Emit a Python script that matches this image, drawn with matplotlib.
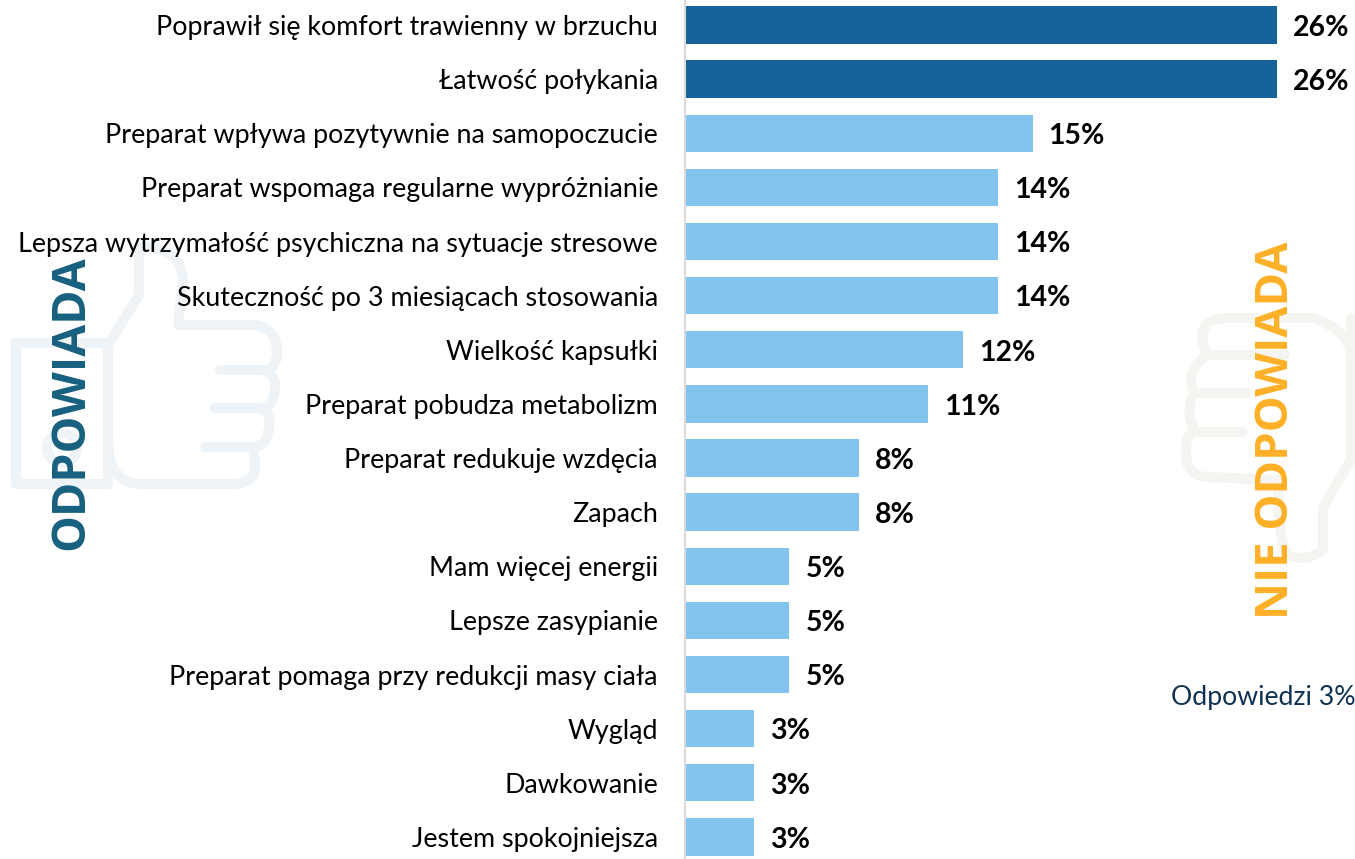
import matplotlib.pyplot as plt
from matplotlib.path import Path
from matplotlib.patches import PathPatch, Circle

plt.rcParams['font.family'] = ['Lato', 'Open Sans', 'DejaVu Sans']

# Answers and their shares, top bar first
categories = ['Poprawił się komfort trawienny w brzuchu', 'Łatwość połykania',
              'Preparat wpływa pozytywnie na samopoczucie', 'Preparat wspomaga regularne wypróżnianie',
              'Lepsza wytrzymałość psychiczna na sytuacje stresowe', 'Skuteczność po 3 miesiącach stosowania',
              'Wielkość kapsułki', 'Preparat pobudza metabolizm', 'Preparat redukuje wzdęcia', 'Zapach',
              'Mam więcej energii', 'Lepsze zasypianie', 'Preparat pomaga przy redukcji masy ciała',
              'Wygląd', 'Dawkowanie', 'Jestem spokojniejsza']
values = [25.8, 25.8, 15.15, 13.65, 13.65, 13.65, 12.1, 10.6, 7.6, 7.6, 4.55, 4.55, 4.55, 3.0, 3.0, 3.0]
labels = ['26%', '26%', '15%', '14%', '14%', '14%', '12%', '11%', '8%', '8%', '5%', '5%', '5%', '3%', '3%', '3%']
bar_colors = ['#17629B'] * 2 + ['#82C4EE'] * 14

W, H = 1355, 859
fig = plt.figure(figsize=(W / 100, H / 100), dpi=100)

# Background layer in pixel coordinates for the two thumb icons
bg = fig.add_axes([0, 0, 1, 1], zorder=0)
bg.set_xlim(0, W)
bg.set_ylim(H, 0)
bg.axis('off')

M, L, C = Path.MOVETO, Path.LINETO, Path.CURVE3


def stroke(verts, codes, color, lw=7.2):
    bg.add_patch(PathPatch(Path(verts, codes), fill=False, edgecolor=color, lw=lw,
                           capstyle='round', joinstyle='round'))


# Thumb up
up = '#EEF3F7'
stroke([(16, 343), (108, 343), (108, 484), (16, 484), (16, 343)], [M, L, L, L, L], up)
bg.add_patch(Circle((62, 448), 15, fill=False, edgecolor=up, lw=7.2))
stroke([(108, 345), (139, 295), (139, 247), (180, 245), (183, 280), (178, 325),
        (257, 325), (277, 330), (277, 352), (277, 370), (262, 370),
        (280, 375), (274, 395), (272, 408), (258, 408),
        (274, 412), (268, 432), (266, 447), (252, 447),
        (264, 484), (233, 484), (143, 484), (108, 484), (108, 443)],
       [M, L, L, C, C, L, L, C, C, C, C, C, C, C, C, C, C, C, C, C, C, L, C, C], up)
stroke([(220, 370), (262, 370)], [M, L], up)
stroke([(215, 408), (258, 408)], [M, L], up)
stroke([(205, 447), (252, 447)], [M, L], up)

# Thumb down
down = '#F4F4F1'
stroke([(1351, 318), (1351, 460), (1323, 507), (1323, 550), (1305, 563), (1288, 555),
        (1278, 545), (1278, 480), (1208, 477), (1185, 477), (1186, 450),
        (1186, 432), (1196, 432), (1184, 415), (1194, 393),
        (1184, 372), (1207, 355), (1192, 318), (1227, 318), (1313, 318), (1350, 330), (1351, 357)],
       [M, L, L, L, C, C, C, C, L, C, C, C, C, C, C, C, C, C, C, L, C, C], down)
stroke([(1196, 432), (1242, 432)], [M, L], down)
stroke([(1194, 393), (1247, 393)], [M, L], down)
stroke([(1207, 355), (1285, 355)], [M, L], down)

# Bars, pixel scale worked out so that 0% falls at x=685
ax = fig.add_axes([685 / W, 0, 1 - 685 / W, 1], zorder=1)
ax.patch.set_alpha(0)
scale = 592 / values[0]
ax.set_xlim(0, (W - 685) / scale)
ax.set_ylim((H - 25) / 54.13, -25 / 54.13)
ax.barh(range(len(values)), values, height=0.69, color=bar_colors)
for i in range(len(values)):
    ax.annotate(labels[i], (values[i], i), xytext=(11.5, -2), textcoords='offset points',
                va='center', ha='left', fontsize=20.5, fontweight='bold', color='black')
ax.set_yticks(range(len(categories)))
ax.set_yticklabels(categories, fontsize=19.4, color='black')
ax.tick_params(axis='y', length=0, pad=19.5)
ax.xaxis.set_visible(False)
for s in ['top', 'right', 'bottom']:
    ax.spines[s].set_visible(False)
ax.spines['left'].set_color('#D9D9D9')
ax.spines['left'].set_linewidth(1.5)

fig.text(71 / W, 1 - 403 / H, 'ODPOWIADA', rotation=90, ha='center', va='center',
         fontsize=33.4, fontweight='bold', color='#17607F', family=['Open Sans'], zorder=5)
fig.text(1276 / W, 1 - 430 / H, 'NIE ODPOWIADA', rotation=90, ha='center', va='center',
         fontsize=32.7, fontweight='bold', color='#FFB027', family=['Open Sans'], zorder=5)
fig.text(1263 / W, 1 - 697 / H, 'Odpowiedzi 3%', ha='center', va='center',
         fontsize=19.2, color='#0F3152', zorder=5)

fig.savefig('out.png', dpi=100)
